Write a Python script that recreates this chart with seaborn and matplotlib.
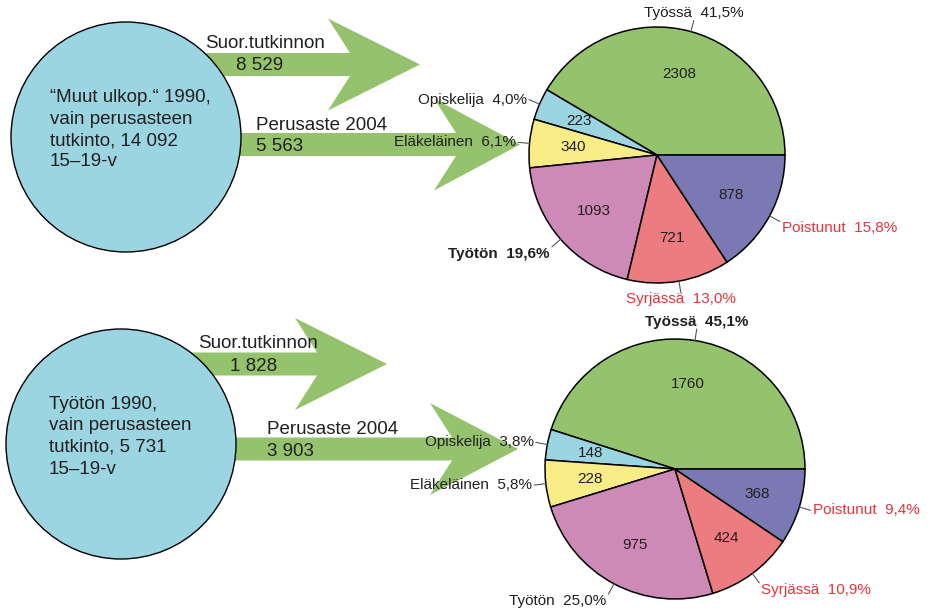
import numpy as np
import matplotlib
matplotlib.use("Agg")
import matplotlib.pyplot as plt
from matplotlib.patches import Circle, Polygon
import seaborn as sns

# pie categories, counterclockwise from 3 o'clock
categories = ['Työssä', 'Opiskelija', 'Eläkeläinen', 'Työtön', 'Syrjässä', 'Poistunut']
values_muut = [2308, 223, 340, 1093, 721, 878]
values_tyoton = [1760, 148, 228, 975, 424, 368]

# flows out of the 1990 groups
flow_labels = ['Suor.tutkinnon', 'Perusaste 2004']
flows_muut = [8529, 5563]
flows_tyoton = [1828, 3903]

group_muut = ['“Muut ulkop.“ 1990,', 'vain perusasteen', 'tutkinto, 14 092', '15–19-v']
group_tyoton = ['Työtön 1990,', 'vain perusasteen', 'tutkinto, 5 731', '15–19-v']

sns.set_style("white")
plt.rcParams['font.family'] = ['Liberation Sans', 'DejaVu Sans']

GREEN = '#95c36d'
pie_colors = sns.color_palette(['#95c36d', '#9bd5e1', '#f8ec86', '#ce8ab6', '#ec7c7f', '#7b79b3'])
TEXT = '#231f20'
RED = '#e8333d'
red_labels = ['Syrjässä', 'Poistunut']


def fmt_num(v):
    return f'{v:,}'.replace(',', ' ')


def arrow(ax, x0, back, tip, yc, shaft=11.5, head=46, sweep=22):
    pts = [(x0, yc - shaft), (back + sweep, yc - shaft), (back, yc - head), (tip, yc),
           (back, yc + head), (back + sweep, yc + shaft), (x0, yc + shaft)]
    ax.add_patch(Polygon(pts, closed=True, fc=GREEN, ec='none', zorder=1))


def draw_panel(ax, circ, lines, text_x, text_y0, arrows, flow_pos, flows, pie, values, bold_name):
    cx, cy, r = circ
    ax.add_patch(Circle((cx, cy), r, fc='#9bd5e1', ec='black', lw=1, zorder=2))
    for i, line in enumerate(lines):
        ax.text(text_x, text_y0 + 21.5 * i, line, fontsize=13.5, color=TEXT, va='baseline', zorder=3)

    for a in arrows:
        arrow(ax, *a)
    for lab, v, (lx, ly, vx, vy) in zip(flow_labels, flows, flow_pos):
        ax.text(lx, ly, lab, fontsize=13.5, color=TEXT, va='baseline', zorder=3)
        ax.text(vx, vy, fmt_num(v), fontsize=13.5, color=TEXT, va='baseline', zorder=3)

    px, py, pr = pie
    total = sum(values)
    wedges, _, autotexts = ax.pie(
        values, colors=pie_colors, startangle=0, counterclock=False,
        center=(px, py), radius=pr, autopct=lambda p: f'{p * total / 100:.0f}',
        pctdistance=0.66, wedgeprops=dict(edgecolor='black', linewidth=1.1),
        textprops=dict(fontsize=11, color=TEXT))

    for w, name, v in zip(wedges, categories, values):
        ang = np.deg2rad((w.theta1 + w.theta2) / 2)
        c, s = np.cos(ang), np.sin(ang)
        x1, y1 = px + pr * c, py + pr * s
        x2, y2 = px + pr * 1.09 * c, py + pr * 1.09 * s
        ax.plot([x1, x2], [y1, y2], color='#555555', lw=0.8, zorder=4)
        up = -s
        ha = 'left' if c > 0.3 else ('right' if c < -0.3 else 'center')
        va = 'bottom' if up > 0.5 else ('top' if up < -0.3 else 'center')
        pct = f'{100 * v / total:.1f}'.replace('.', ',')
        ax.text(x2 + (2 if ha == 'left' else -2 if ha == 'right' else 0), y2,
                f'{name}  {pct}%', fontsize=11, ha=ha, va=va,
                color=RED if name in red_labels else TEXT,
                fontweight='bold' if name == bold_name else 'normal', zorder=5)


fig = plt.figure(figsize=(9.39, 6.14), dpi=100)
ax = fig.add_axes([0, 0, 1, 1])

draw_panel(ax, (126, 137, 115), group_muut, 50, 102,
           [(190, 328, 420, 64.5), (200, 434, 520, 144.5)],
           [(205, 48, 236, 70), (256, 130, 256, 151)], flows_muut,
           (657, 155, 128), values_muut, 'Työtön')

draw_panel(ax, (121, 444, 115), group_tyoton, 49, 409,
           [(190, 295, 387, 364), (200, 430, 518, 449)],
           [(198, 348, 230, 371), (267, 434, 267, 456)], flows_tyoton,
           (675, 469, 130), values_tyoton, 'Työssä')

ax.set_xlim(0, 939)
ax.set_ylim(614, 0)
ax.set_aspect('auto')
ax.axis('off')

fig.savefig('out.png', dpi=100)
